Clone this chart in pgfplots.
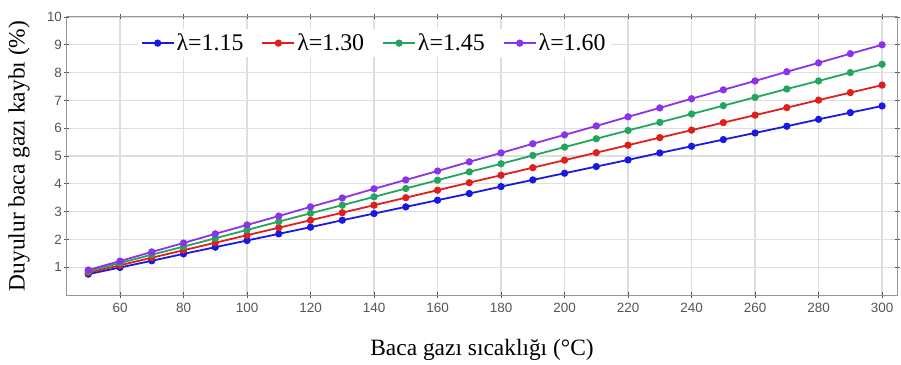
\documentclass[border=0pt]{standalone}
\usepackage{fontspec}
\setmainfont{Liberation Serif}
\newfontfamily\ticksans{Liberation Sans}
\usepackage{pgfplots}
\pgfplotsset{compat=1.18}
\definecolor{cblue}{RGB}{25,25,225}
\definecolor{cred}{RGB}{225,30,30}
\definecolor{cgreen}{RGB}{35,165,95}
\definecolor{cpurple}{RGB}{140,50,235}
\definecolor{gridc}{RGB}{222,222,222}
\definecolor{axc}{RGB}{150,150,150}
\definecolor{tickc}{RGB}{85,85,85}
\begin{document}
\begin{tikzpicture}
\begin{axis}[
  scale only axis,
  width=830bp, height=278bp,
  xmin=43.3, xmax=304.7, ymin=0, ymax=10,
  xtick={60,80,...,300}, ytick={1,2,...,10},
  grid=major,
  major grid style={draw=gridc, line width=1.2bp},
  axis line style={draw=axc, line width=1bp},
  tick style={draw=tickc, line width=0.8bp},
  tick align=center, major tick length=5bp,
  tick label style={font=\ticksans\fontsize{13.5}{13.5}\selectfont, text=tickc},
  /pgf/number format/assume math mode=true,
  xticklabel shift=2bp, yticklabel shift=-1bp,
  xlabel={Baca gazı sıcaklığı (°C)},
  ylabel={Duyulur baca gazı kaybı (\%)},
  label style={font=\fontsize{23.5}{23.5}\selectfont},
  xlabel style={at={(0.5,0)}, anchor=center, yshift=-55bp},
  ylabel style={at={(0,0.5)}, anchor=center, yshift=48bp},
  every axis plot/.append style={line width=1.8bp, mark=*, mark size=2.7bp},
  legend style={at={(0.085,0.906)}, anchor=west, draw=none, fill=white,
    font=\fontsize{24}{24}\selectfont, legend columns=4,
    /tikz/every even column/.append style={column sep=16bp},
    inner xsep=3bp, inner ysep=3bp},
  legend image code/.code={\draw[#1, line width=1.8bp] (0bp,0bp) -- (32bp,0bp); \fill[#1] (16bp,0bp) circle (2.7bp);},
]
\addplot[cblue] coordinates {(50,0.75)(60,0.99)(70,1.23)(80,1.48)(90,1.72)(100,1.96)(110,2.20)(120,2.44)(130,2.69)(140,2.93)(150,3.17)(160,3.41)(170,3.65)(180,3.90)(190,4.14)(200,4.38)(210,4.62)(220,4.86)(230,5.11)(240,5.35)(250,5.59)(260,5.83)(270,6.07)(280,6.32)(290,6.56)(300,6.80)};
\addlegendentry{λ=1.15}
\addplot[cred] coordinates {(50,0.80)(60,1.07)(70,1.34)(80,1.61)(90,1.88)(100,2.15)(110,2.42)(120,2.69)(130,2.96)(140,3.23)(150,3.50)(160,3.77)(170,4.04)(180,4.31)(190,4.58)(200,4.85)(210,5.12)(220,5.39)(230,5.66)(240,5.93)(250,6.20)(260,6.47)(270,6.74)(280,7.01)(290,7.28)(300,7.55)};
\addlegendentry{λ=1.30}
\addplot[cgreen] coordinates {(50,0.85)(60,1.15)(70,1.45)(80,1.74)(90,2.04)(100,2.34)(110,2.64)(120,2.94)(130,3.23)(140,3.53)(150,3.83)(160,4.13)(170,4.43)(180,4.72)(190,5.02)(200,5.32)(210,5.62)(220,5.92)(230,6.21)(240,6.51)(250,6.81)(260,7.11)(270,7.41)(280,7.70)(290,8.00)(300,8.30)};
\addlegendentry{λ=1.45}
\addplot[cpurple] coordinates {(50,0.90)(60,1.22)(70,1.55)(80,1.87)(90,2.20)(100,2.52)(110,2.84)(120,3.17)(130,3.49)(140,3.82)(150,4.14)(160,4.46)(170,4.79)(180,5.11)(190,5.44)(200,5.76)(210,6.08)(220,6.41)(230,6.73)(240,7.06)(250,7.38)(260,7.70)(270,8.03)(280,8.35)(290,8.68)(300,9.00)};
\addlegendentry{λ=1.60}
\end{axis}
\path ([shift={(-67bp,-70bp)}]current axis.south west) rectangle ([shift={(4bp,17bp)}]current axis.north east);
\end{tikzpicture}
\end{document}
